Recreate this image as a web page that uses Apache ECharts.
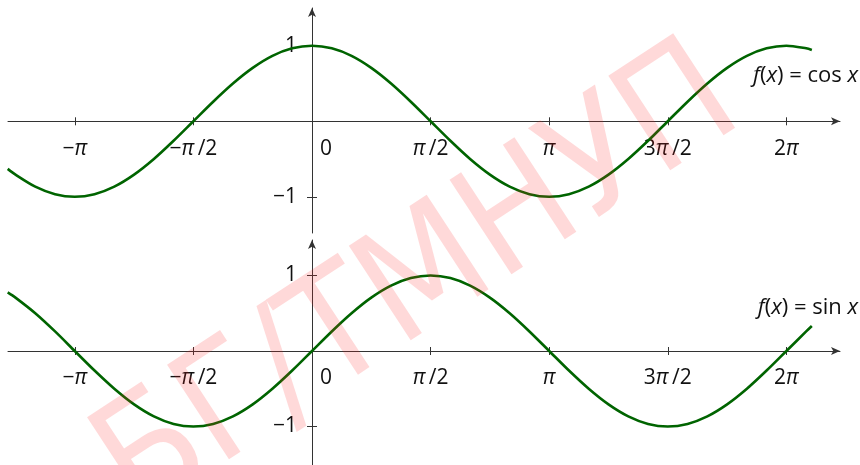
<!DOCTYPE html>
<html>
<head>
<meta charset="utf-8">
<script src="https://cdn.jsdelivr.net/npm/echarts@6.0.0/dist/echarts.min.js"></script>
<style>
  html, body { margin: 0; padding: 0; background: #fff; }
  #chart { width: 860px; height: 465px; }
</style>
</head>
<body>
<div id="chart"></div>
<script>
// sample points (radians), every 15 degrees
var xValues = [-4.03,
  -3.927, -3.665, -3.403, -3.142, -2.880, -2.618, -2.356, -2.094, -1.833, -1.571,
  -1.309, -1.047, -0.785, -0.524, -0.262, 0, 0.262, 0.524, 0.785, 1.047,
  1.309, 1.571, 1.833, 2.094, 2.356, 2.618, 2.880, 3.142, 3.403, 3.665,
  3.927, 4.189, 4.451, 4.712, 4.974, 5.236, 5.498, 5.760, 6.021, 6.283,
  6.545, 6.62];
var cosValues = [-0.631,
  -0.707, -0.866, -0.966, -1, -0.966, -0.866, -0.707, -0.5, -0.259, 0,
  0.259, 0.5, 0.707, 0.866, 0.966, 1, 0.966, 0.866, 0.707, 0.5,
  0.259, 0, -0.259, -0.5, -0.707, -0.866, -0.966, -1, -0.966, -0.866,
  -0.707, -0.5, -0.259, 0, 0.259, 0.5, 0.707, 0.866, 0.966, 1,
  0.966, 0.944];
var sinValues = [0.776,
  0.707, 0.5, 0.259, 0, -0.259, -0.5, -0.707, -0.866, -0.966, -1,
  -0.966, -0.866, -0.707, -0.5, -0.259, 0, 0.259, 0.5, 0.707, 0.866,
  0.966, 1, 0.966, 0.866, 0.707, 0.5, 0.259, 0, -0.259, -0.5,
  -0.707, -0.866, -0.966, -1, -0.966, -0.866, -0.707, -0.5, -0.259, 0,
  0.259, 0.331];

var xTickValues = [-3.1416, -1.5708, 1.5708, 3.1416, 4.7124, 6.2832];
var xLabelValues = [-3.1416, -1.5708, 0, 1.5708, 3.1416, 4.7124, 6.2832];
var xLabelText = ['−{p|π}', '−{p|π}\u2009/2', '{z|0}', '{p|π}\u2009/2', '{p|π}', '3{p|π}\u2009/2', '2{p|π}'];
var yTickValues = [-1, 1];
var yLabelText = ['−1', '1'];

var FONT = '"Open Sans", "Noto Sans", sans-serif';
var AXIS = '#333';
var GREEN = '#006400';
var X_MIN = -4.026, X_MAX = 6.993;

function pairs(ys) {
  return xValues.map(function (x, i) { return [x, ys[i]]; });
}

function lookup(values, texts, v) {
  for (var i = 0; i < values.length; i++) {
    if (Math.abs(values[i] - v) < 1e-3) return texts[i];
  }
  return '';
}

var labelRich = {
  p: { fontStyle: 'italic', fontSize: 21, fontFamily: FONT, color: '#111' },
  z: { padding: [0, 0, 0, 28], fontSize: 21, fontFamily: FONT, color: '#111' }
};

// axes are moved onto the zero lines with offset (labels follow them)
function xAxes(grid, off) {
  return [{
    type: 'value', gridIndex: grid, min: X_MIN, max: X_MAX, position: 'bottom', offset: off,
    axisLine: { onZero: false, symbol: ['none', 'arrow'], symbolSize: [6, 9],
      lineStyle: { color: AXIS, width: 1 } },
    axisTick: { show: true, inside: false, length: 4, customValues: xTickValues,
      lineStyle: { color: AXIS, width: 1 } },
    axisLabel: { customValues: xLabelValues, margin: 17, fontSize: 21, fontFamily: FONT, color: '#111',
      rich: labelRich,
      formatter: function (v) { return lookup(xLabelValues, xLabelText, v); } },
    splitLine: { show: false }
  }, {
    type: 'value', gridIndex: grid, min: X_MIN, max: X_MAX, position: 'bottom', offset: off,
    axisLine: { show: false, onZero: false },
    axisTick: { show: true, inside: true, length: 4, customValues: xTickValues,
      lineStyle: { color: AXIS, width: 1 } },
    axisLabel: { show: false },
    splitLine: { show: false }
  }];
}

function yAxes(grid, min, max, off) {
  return [{
    type: 'value', gridIndex: grid, min: min, max: max, position: 'left', offset: off,
    axisLine: { onZero: false, symbol: ['none', 'arrow'], symbolSize: [6, 9],
      lineStyle: { color: AXIS, width: 1 } },
    axisTick: { show: true, inside: false, length: 5, customValues: yTickValues,
      lineStyle: { color: AXIS, width: 1 } },
    axisLabel: { customValues: yTickValues, margin: 15, fontSize: 21, fontFamily: FONT, color: '#111',
      formatter: function (v) { return lookup(yTickValues, yLabelText, v); } },
    splitLine: { show: false }
  }, {
    type: 'value', gridIndex: grid, min: min, max: max, position: 'left', offset: off,
    axisLine: { show: false, onZero: false },
    axisTick: { show: true, inside: true, length: 5, customValues: yTickValues,
      lineStyle: { color: AXIS, width: 1 } },
    axisLabel: { show: false },
    splitLine: { show: false }
  }];
}

var chart = echarts.init(document.getElementById('chart'));

var option = {
  animation: false,
  backgroundColor: '#fff',
  grid: [
    { left: 8, top: 8, width: 832, height: 225, containLabel: false, outerBoundsMode: 'none' },
    { left: 8, top: 240, width: 832, height: 225, containLabel: false, outerBoundsMode: 'none' }
  ],
  xAxis: xAxes(0, -111.7).concat(xAxes(1, -114)),
  yAxis: yAxes(0, -1.48, 1.5, -304).concat(yAxes(1, -1.51, 1.47, -304)),
  series: [{
    type: 'line', xAxisIndex: 0, yAxisIndex: 0, data: pairs(cosValues),
    smooth: 0.3, showSymbol: false, lineStyle: { color: GREEN, width: 2.6 }, z: 5
  }, {
    type: 'line', xAxisIndex: 2, yAxisIndex: 2, data: pairs(sinValues),
    smooth: 0.3, showSymbol: false, lineStyle: { color: GREEN, width: 2.6 }, z: 5
  }],
  graphic: [{
    type: 'text', right: 2, top: 65, z: 20,
    style: { text: '{i|f}({i|x}) = cos {i|x}', fontSize: 22, fontFamily: FONT, fill: '#111',
      rich: { i: { fontStyle: 'italic', fontSize: 22, fontFamily: FONT } } }
  }, {
    type: 'text', right: 2, top: 297, z: 20,
    style: { text: '{i|f}({i|x}) = sin {i|x}', fontSize: 22, fontFamily: FONT, fill: '#111',
      rich: { i: { fontStyle: 'italic', fontSize: 22, fontFamily: FONT } } }
  }, {
    type: 'text', x: 420, y: 286, rotation: 0.58, z: 100, silent: true,
    style: { text: 'БГ/ТМНУП', fontSize: 155, fontFamily: '"Liberation Sans Narrow", "DejaVu Sans Condensed", sans-serif',
      fill: 'rgba(255, 30, 30, 0.17)', align: 'center', verticalAlign: 'middle' }
  }]
};

chart.setOption(option);
</script>
</body>
</html>
